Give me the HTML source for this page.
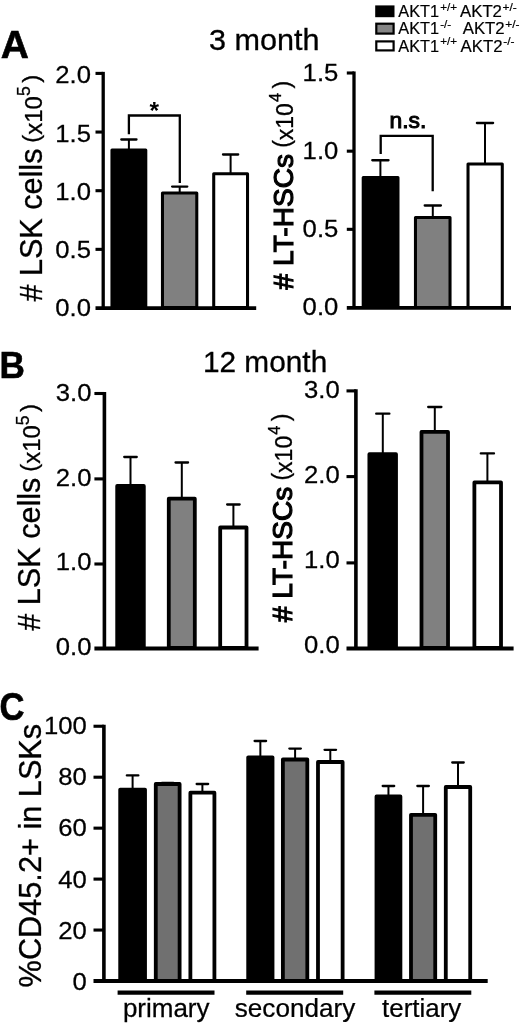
<!DOCTYPE html>
<html><head><meta charset="utf-8"><title>Figure</title>
<style>
html,body{margin:0;padding:0;background:#fff;}
body{width:520px;height:1024px;overflow:hidden;}
svg{display:block;font-family:"Liberation Sans",Arial,Helvetica,sans-serif;fill:#000;}
</style></head><body>
<svg width="520" height="1024" viewBox="0 0 520 1024">
<rect width="520" height="1024" fill="#fff"/>
<text transform="translate(0.70 58.00) scale(1.02 1)" font-size="38.2" font-weight="bold" stroke="#000" stroke-width="0.6">A</text>
<text transform="translate(-0.50 377.80) scale(0.94 1)" font-size="37.4" font-weight="bold" stroke="#000" stroke-width="0.6">B</text>
<text transform="translate(-0.40 719.50) scale(0.91 1)" font-size="38.0" font-weight="bold" stroke="#000" stroke-width="0.6">C</text>
<text transform="translate(208.90 49.90) scale(1.06 1)" font-size="28.9" stroke="#000" stroke-width="0.3">3 month</text>
<text transform="translate(202.90 372.00) scale(1.032 1)" font-size="28.9" stroke="#000" stroke-width="0.3">12 month</text>
<rect x="375.2" y="5.4" width="19.3" height="11.80" fill="#000"/>
<text x="398.3" y="17.3" font-size="16.3" stroke="#000" stroke-width="0.2">AKT1<tspan font-size="11.6" dy="-6.6" dx="1.2">+/+</tspan></text>
<text transform="translate(460 17.3) scale(1.03 1)" font-size="16.3" stroke="#000" stroke-width="0.2">AKT2<tspan font-size="11.6" dy="-6.6" dx="0.6">+/-</tspan></text>
<rect x="376.3" y="23.70" width="17.3" height="9.90" fill="#858585" stroke="#000" stroke-width="2.2"/>
<text x="398.3" y="34.4" font-size="16.3" stroke="#000" stroke-width="0.2">AKT1<tspan font-size="11.6" dy="-6.6" dx="1.2">-/-</tspan></text>
<text transform="translate(462.7 34.4) scale(1.03 1)" font-size="16.3" stroke="#000" stroke-width="0.2">AKT2<tspan font-size="11.6" dy="-6.6" dx="0.6">+/-</tspan></text>
<rect x="376.3" y="41.40" width="17.3" height="9.00" fill="#fff" stroke="#000" stroke-width="2.2"/>
<text x="398.3" y="51.5" font-size="16.3" stroke="#000" stroke-width="0.2">AKT1<tspan font-size="11.6" dy="-6.6" dx="1.2">+/+</tspan></text>
<text transform="translate(460.6 51.5) scale(1.03 1)" font-size="16.3" stroke="#000" stroke-width="0.2">AKT2<tspan font-size="11.6" dy="-6.6" dx="0.6">-/-</tspan></text>
<path d="M103.20 71.85V308.00" stroke="#000" stroke-width="3.3" fill="none"/>
<path d="M95.50 73.40H103.20" stroke="#000" stroke-width="3.1"/>
<path d="M95.50 132.05H103.20" stroke="#000" stroke-width="3.1"/>
<path d="M95.50 190.70H103.20" stroke="#000" stroke-width="3.1"/>
<path d="M95.50 249.35H103.20" stroke="#000" stroke-width="3.1"/>
<text transform="translate(91.00 83.49) scale(1.07 1)" font-size="24" text-anchor="end" stroke="#000" stroke-width="0.25">2.0</text>
<text transform="translate(91.00 141.69) scale(1.07 1)" font-size="24" text-anchor="end" stroke="#000" stroke-width="0.25">1.5</text>
<text transform="translate(91.00 199.89) scale(1.07 1)" font-size="24" text-anchor="end" stroke="#000" stroke-width="0.25">1.0</text>
<text transform="translate(91.00 258.09) scale(1.07 1)" font-size="24" text-anchor="end" stroke="#000" stroke-width="0.25">0.5</text>
<text transform="translate(91.00 316.29) scale(1.07 1)" font-size="24" text-anchor="end" stroke="#000" stroke-width="0.25">0.0</text>
<rect x="111.97" y="149.90" width="33.81" height="157.60" fill="#000" stroke="#000" stroke-width="3.05" stroke-linejoin="round"/>
<rect x="162.47" y="192.90" width="34.31" height="114.60" fill="#808080" stroke="#000" stroke-width="3.05" stroke-linejoin="round"/>
<rect x="213.72" y="173.65" width="33.81" height="133.85" fill="#fff" stroke="#000" stroke-width="3.05" stroke-linejoin="round"/>
<path d="M128.90 139.50V149.75" stroke="#000" stroke-width="2.0" fill="none"/>
<path d="M121.30 139.50H136.50" stroke="#000" stroke-width="2.3" stroke-linecap="round" fill="none"/>
<path d="M179.70 186.60V192.75" stroke="#000" stroke-width="2.0" fill="none"/>
<path d="M172.10 186.60H187.30" stroke="#000" stroke-width="2.3" stroke-linecap="round" fill="none"/>
<path d="M230.60 154.50V173.50" stroke="#000" stroke-width="2.0" fill="none"/>
<path d="M223.00 154.50H238.20" stroke="#000" stroke-width="2.3" stroke-linecap="round" fill="none"/>
<path d="M95.50 308.20H256.20" stroke="#000" stroke-width="3.7"/>
<path d="M128.9 134.3V115.5H179.8V183" stroke="#000" stroke-width="2.3" fill="none"/>
<text x="154.2" y="119.1" font-size="24.5" font-weight="bold" text-anchor="middle">*</text>
<text transform="translate(41.5 301.6) rotate(-90)" font-size="30.6" stroke="#000" stroke-width="0.3"><tspan># LSK cells</tspan><tspan font-size="24" dx="5.8" dy="-2.8">(</tspan><tspan font-size="24" dy="2.8">x10</tspan><tspan font-size="17.5" dy="-11.2" dx="0">5</tspan><tspan font-size="24" dy="8.399999999999999" dx="3.5">)</tspan></text>
<path d="M354.00 71.45V307.50" stroke="#000" stroke-width="3.3" fill="none"/>
<path d="M346.80 73.00H354.00" stroke="#000" stroke-width="3.1"/>
<path d="M346.80 151.17H354.00" stroke="#000" stroke-width="3.1"/>
<path d="M346.80 229.33H354.00" stroke="#000" stroke-width="3.1"/>
<text transform="translate(338.30 81.29) scale(1.07 1)" font-size="24" text-anchor="end" stroke="#000" stroke-width="0.25">1.5</text>
<text transform="translate(338.30 159.06) scale(1.07 1)" font-size="24" text-anchor="end" stroke="#000" stroke-width="0.25">1.0</text>
<text transform="translate(338.30 236.83) scale(1.07 1)" font-size="24" text-anchor="end" stroke="#000" stroke-width="0.25">0.5</text>
<text transform="translate(338.30 314.59) scale(1.07 1)" font-size="24" text-anchor="end" stroke="#000" stroke-width="0.25">0.0</text>
<rect x="363.22" y="177.40" width="34.76" height="130.10" fill="#000" stroke="#000" stroke-width="3.05" stroke-linejoin="round"/>
<rect x="415.47" y="217.40" width="34.56" height="90.10" fill="#808080" stroke="#000" stroke-width="3.05" stroke-linejoin="round"/>
<rect x="468.02" y="163.95" width="34.26" height="143.55" fill="#fff" stroke="#000" stroke-width="3.05" stroke-linejoin="round"/>
<path d="M380.40 160.25V177.25" stroke="#000" stroke-width="2.0" fill="none"/>
<path d="M372.30 160.25H388.50" stroke="#000" stroke-width="2.3" stroke-linecap="round" fill="none"/>
<path d="M432.80 205.50V217.25" stroke="#000" stroke-width="2.0" fill="none"/>
<path d="M424.70 205.50H440.90" stroke="#000" stroke-width="2.3" stroke-linecap="round" fill="none"/>
<path d="M485.00 123.00V163.80" stroke="#000" stroke-width="2.0" fill="none"/>
<path d="M476.90 123.00H493.10" stroke="#000" stroke-width="2.3" stroke-linecap="round" fill="none"/>
<path d="M346.80 307.80H511.00" stroke="#000" stroke-width="3.7"/>
<path d="M380.7 154V135.9H432.7V191.3" stroke="#000" stroke-width="2.3" fill="none"/>
<text transform="translate(407.90 127.90) scale(1.07 1)" font-size="21.4" text-anchor="middle" stroke="#000" stroke-width="1.0">n.s.</text>
<text transform="translate(292.7 289.4) rotate(-90)" font-size="28.15" stroke="#000" stroke-width="0.3"><tspan stroke-width="1.15"># LT-HSCs</tspan><tspan font-size="23" dx="6.0" dy="-2.8">(</tspan><tspan font-size="23" dy="2.8">x10</tspan><tspan font-size="16.5" dy="-11.5" dx="1">4</tspan><tspan font-size="23" dy="8.7" dx="4.3">)</tspan></text>
<path d="M104.40 391.95V648.00" stroke="#000" stroke-width="3.6" fill="none"/>
<path d="M94.40 393.50H104.40" stroke="#000" stroke-width="3.1"/>
<path d="M94.40 478.90H104.40" stroke="#000" stroke-width="3.1"/>
<path d="M94.40 564.00H104.40" stroke="#000" stroke-width="3.1"/>
<text transform="translate(91.50 400.84) scale(1.07 1)" font-size="24" text-anchor="end" stroke="#000" stroke-width="0.25">3.0</text>
<text transform="translate(91.50 485.59) scale(1.07 1)" font-size="24" text-anchor="end" stroke="#000" stroke-width="0.25">2.0</text>
<text transform="translate(91.50 570.34) scale(1.07 1)" font-size="24" text-anchor="end" stroke="#000" stroke-width="0.25">1.0</text>
<text transform="translate(91.50 655.09) scale(1.07 1)" font-size="24" text-anchor="end" stroke="#000" stroke-width="0.25">0.0</text>
<rect x="117.19" y="486.01" width="26.63" height="161.99" fill="#000" stroke="#000" stroke-width="3.8" stroke-linejoin="round"/>
<rect x="168.78" y="498.71" width="26.03" height="149.29" fill="#808080" stroke="#000" stroke-width="3.8" stroke-linejoin="round"/>
<rect x="220.19" y="527.51" width="26.33" height="120.49" fill="#fff" stroke="#000" stroke-width="3.8" stroke-linejoin="round"/>
<path d="M130.50 457.00V486.00" stroke="#000" stroke-width="2.0" fill="none"/>
<path d="M124.25 457.00H136.75" stroke="#000" stroke-width="2.3" stroke-linecap="round" fill="none"/>
<path d="M181.80 462.50V498.70" stroke="#000" stroke-width="2.0" fill="none"/>
<path d="M175.55 462.50H188.05" stroke="#000" stroke-width="2.3" stroke-linecap="round" fill="none"/>
<path d="M233.40 504.50V527.50" stroke="#000" stroke-width="2.0" fill="none"/>
<path d="M227.15 504.50H239.65" stroke="#000" stroke-width="2.3" stroke-linecap="round" fill="none"/>
<path d="M94.40 648.40H258.60" stroke="#000" stroke-width="4.0"/>
<text transform="translate(40.0 630.7) rotate(-90)" font-size="30.6" stroke="#000" stroke-width="0.3"><tspan># LSK cells</tspan><tspan font-size="24" dx="5.8" dy="-2.8">(</tspan><tspan font-size="24" dy="2.8">x10</tspan><tspan font-size="17.5" dy="-11.2" dx="0">5</tspan><tspan font-size="24" dy="8.399999999999999" dx="3.5">)</tspan></text>
<path d="M355.90 389.35V648.00" stroke="#000" stroke-width="3.6" fill="none"/>
<path d="M346.50 390.90H355.90" stroke="#000" stroke-width="3.1"/>
<path d="M346.50 476.60H355.90" stroke="#000" stroke-width="3.1"/>
<path d="M346.50 562.90H355.90" stroke="#000" stroke-width="3.1"/>
<text transform="translate(339.70 398.29) scale(1.07 1)" font-size="24" text-anchor="end" stroke="#000" stroke-width="0.25">3.0</text>
<text transform="translate(339.70 483.09) scale(1.07 1)" font-size="24" text-anchor="end" stroke="#000" stroke-width="0.25">2.0</text>
<text transform="translate(339.70 567.89) scale(1.07 1)" font-size="24" text-anchor="end" stroke="#000" stroke-width="0.25">1.0</text>
<text transform="translate(339.70 652.69) scale(1.07 1)" font-size="24" text-anchor="end" stroke="#000" stroke-width="0.25">0.0</text>
<rect x="369.38" y="454.21" width="26.63" height="193.79" fill="#000" stroke="#000" stroke-width="3.8" stroke-linejoin="round"/>
<rect x="421.49" y="431.91" width="26.53" height="216.09" fill="#808080" stroke="#000" stroke-width="3.8" stroke-linejoin="round"/>
<rect x="474.38" y="482.41" width="26.63" height="165.59" fill="#fff" stroke="#000" stroke-width="3.8" stroke-linejoin="round"/>
<path d="M382.80 413.70V454.20" stroke="#000" stroke-width="2.0" fill="none"/>
<path d="M376.20 413.70H389.40" stroke="#000" stroke-width="2.3" stroke-linecap="round" fill="none"/>
<path d="M434.80 407.00V431.90" stroke="#000" stroke-width="2.0" fill="none"/>
<path d="M428.20 407.00H441.40" stroke="#000" stroke-width="2.3" stroke-linecap="round" fill="none"/>
<path d="M487.40 453.40V482.40" stroke="#000" stroke-width="2.0" fill="none"/>
<path d="M480.80 453.40H494.00" stroke="#000" stroke-width="2.3" stroke-linecap="round" fill="none"/>
<path d="M346.50 648.40H513.60" stroke="#000" stroke-width="4.0"/>
<text transform="translate(291.6 622.1) rotate(-90)" font-size="28.15" stroke="#000" stroke-width="0.3"><tspan stroke-width="1.15"># LT-HSCs</tspan><tspan font-size="23" dx="6.0" dy="-2.8">(</tspan><tspan font-size="23" dy="2.8">x10</tspan><tspan font-size="16.5" dy="-11.5" dx="1">4</tspan><tspan font-size="23" dy="8.7" dx="4.3">)</tspan></text>
<path d="M103.90 724.70V981.00" stroke="#000" stroke-width="3.6" fill="none"/>
<path d="M93.50 726.25H103.90" stroke="#000" stroke-width="3.1"/>
<path d="M93.50 777.20H103.90" stroke="#000" stroke-width="3.1"/>
<path d="M93.50 828.15H103.90" stroke="#000" stroke-width="3.1"/>
<path d="M93.50 879.10H103.90" stroke="#000" stroke-width="3.1"/>
<path d="M93.50 930.05H103.90" stroke="#000" stroke-width="3.1"/>
<text transform="translate(86.80 733.79) scale(1.07 1)" font-size="24" text-anchor="end" stroke="#000" stroke-width="0.25">100</text>
<text transform="translate(86.80 785.09) scale(1.07 1)" font-size="24" text-anchor="end" stroke="#000" stroke-width="0.25">80</text>
<text transform="translate(86.80 836.39) scale(1.07 1)" font-size="24" text-anchor="end" stroke="#000" stroke-width="0.25">60</text>
<text transform="translate(86.80 887.69) scale(1.07 1)" font-size="24" text-anchor="end" stroke="#000" stroke-width="0.25">40</text>
<text transform="translate(86.80 938.99) scale(1.07 1)" font-size="24" text-anchor="end" stroke="#000" stroke-width="0.25">20</text>
<text transform="translate(86.80 990.29) scale(1.07 1)" font-size="24" text-anchor="end" stroke="#000" stroke-width="0.25">0</text>
<rect x="120.19" y="789.61" width="24.83" height="191.39" fill="#000" stroke="#000" stroke-width="3.8" stroke-linejoin="round"/>
<path d="M132.60 775.40V789.60" stroke="#000" stroke-width="2.0" fill="none"/>
<path d="M126.85 775.40H138.35" stroke="#000" stroke-width="2.3" stroke-linecap="round" fill="none"/>
<rect x="155.78" y="784.01" width="23.83" height="196.99" fill="#707070" stroke="#000" stroke-width="3.8" stroke-linejoin="round"/>
<path d="M167.70 783.00V784.00" stroke="#000" stroke-width="2.0" fill="none"/>
<path d="M161.95 783.00H173.45" stroke="#000" stroke-width="2.3" stroke-linecap="round" fill="none"/>
<rect x="190.38" y="792.71" width="24.03" height="188.29" fill="#fff" stroke="#000" stroke-width="3.8" stroke-linejoin="round"/>
<path d="M202.40 784.00V792.70" stroke="#000" stroke-width="2.0" fill="none"/>
<path d="M196.65 784.00H208.15" stroke="#000" stroke-width="2.3" stroke-linecap="round" fill="none"/>
<rect x="248.19" y="757.31" width="24.33" height="223.69" fill="#000" stroke="#000" stroke-width="3.8" stroke-linejoin="round"/>
<path d="M260.35 741.00V757.30" stroke="#000" stroke-width="2.0" fill="none"/>
<path d="M254.60 741.00H266.10" stroke="#000" stroke-width="2.3" stroke-linecap="round" fill="none"/>
<rect x="282.88" y="759.51" width="24.43" height="221.49" fill="#707070" stroke="#000" stroke-width="3.8" stroke-linejoin="round"/>
<path d="M295.10 748.60V759.50" stroke="#000" stroke-width="2.0" fill="none"/>
<path d="M289.35 748.60H300.85" stroke="#000" stroke-width="2.3" stroke-linecap="round" fill="none"/>
<rect x="317.99" y="762.01" width="24.63" height="218.99" fill="#fff" stroke="#000" stroke-width="3.8" stroke-linejoin="round"/>
<path d="M330.30 749.80V762.00" stroke="#000" stroke-width="2.0" fill="none"/>
<path d="M324.55 749.80H336.05" stroke="#000" stroke-width="2.3" stroke-linecap="round" fill="none"/>
<rect x="376.49" y="796.41" width="23.93" height="184.59" fill="#000" stroke="#000" stroke-width="3.8" stroke-linejoin="round"/>
<path d="M388.45 786.00V796.40" stroke="#000" stroke-width="2.0" fill="none"/>
<path d="M382.70 786.00H394.20" stroke="#000" stroke-width="2.3" stroke-linecap="round" fill="none"/>
<rect x="410.99" y="814.81" width="24.23" height="166.19" fill="#707070" stroke="#000" stroke-width="3.8" stroke-linejoin="round"/>
<path d="M423.10 786.00V814.80" stroke="#000" stroke-width="2.0" fill="none"/>
<path d="M417.35 786.00H428.85" stroke="#000" stroke-width="2.3" stroke-linecap="round" fill="none"/>
<rect x="445.79" y="787.01" width="24.43" height="193.99" fill="#fff" stroke="#000" stroke-width="3.8" stroke-linejoin="round"/>
<path d="M458.00 762.50V787.00" stroke="#000" stroke-width="2.0" fill="none"/>
<path d="M452.25 762.50H463.75" stroke="#000" stroke-width="2.3" stroke-linecap="round" fill="none"/>
<path d="M93.50 981.00H487.70" stroke="#000" stroke-width="4.0"/>
<path d="M117.6 992.6H214.5" stroke="#000" stroke-width="4.3"/>
<path d="M246.2 992.6H343.2" stroke="#000" stroke-width="4.3"/>
<path d="M374.4 992.6H471.3" stroke="#000" stroke-width="4.3"/>
<text transform="translate(166.20 1016.90) scale(1.028 1)" font-size="25.3" text-anchor="middle" stroke="#000" stroke-width="0.25">primary</text>
<text transform="translate(295.00 1016.90) scale(1.033 1)" font-size="25.3" text-anchor="middle" stroke="#000" stroke-width="0.25">secondary</text>
<text transform="translate(421.70 1016.90) scale(1.025 1)" font-size="25.3" text-anchor="middle" stroke="#000" stroke-width="0.25">tertiary</text>
<text transform="translate(41.4 987.4) rotate(-90) scale(1 1.03)" font-size="30.7" stroke="#000" stroke-width="0.3">%CD45.2+ in LSKs</text>
</svg>
</body></html>
